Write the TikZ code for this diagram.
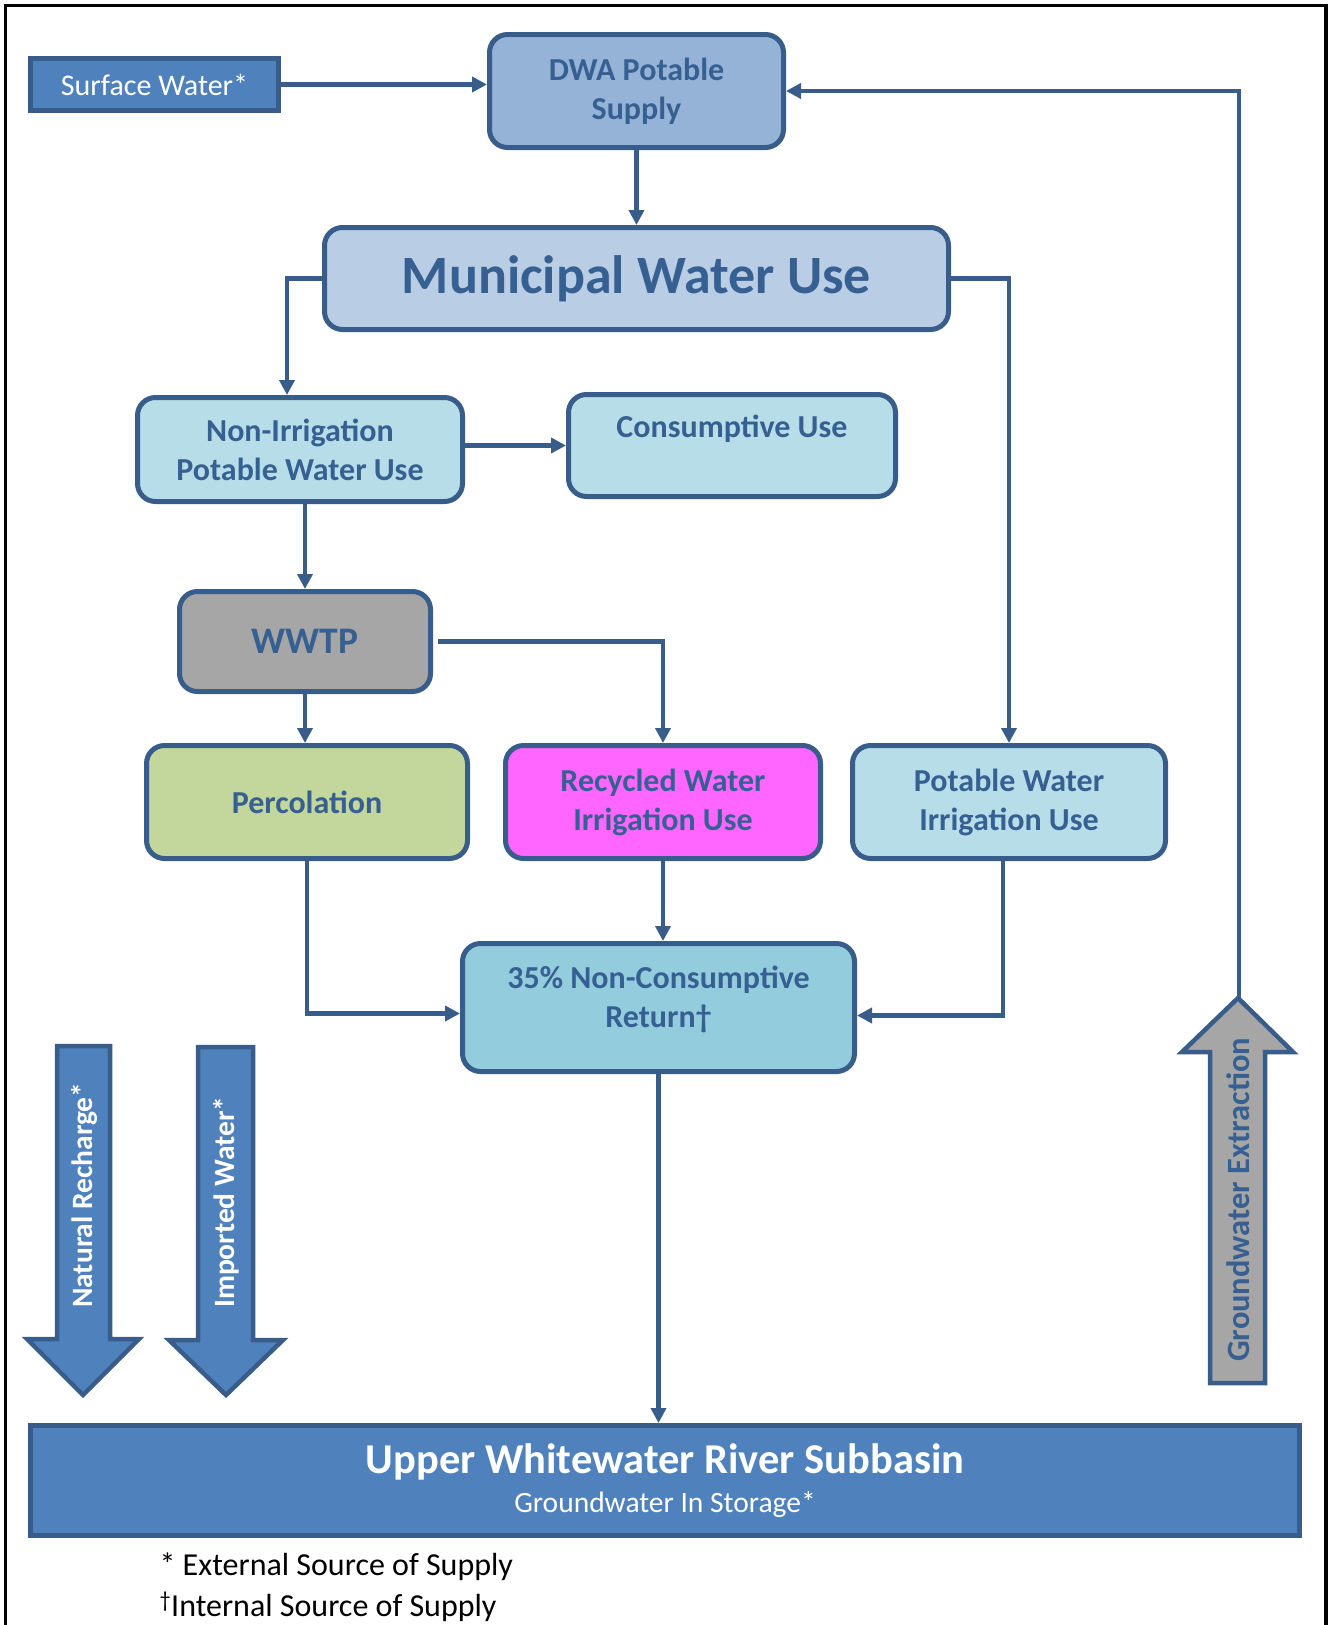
\documentclass[tikz,border=0pt]{standalone}
\usepackage{fontspec}
\setmainfont{Carlito}
\usetikzlibrary{arrows.meta,positioning,calc}
\definecolor{EdgeBlue}{HTML}{385D8A}
\definecolor{TextBlue}{HTML}{376092}
\definecolor{DwaBlue}{HTML}{95B3D7}
\definecolor{MuniBlue}{HTML}{B9CDE5}
\definecolor{UseAqua}{HTML}{B7DEE8}
\definecolor{ReturnAqua}{HTML}{93CDDD}
\definecolor{WwtpGray}{HTML}{A6A6A6}
\definecolor{PercGreen}{HTML}{C3D69B}
\definecolor{RecyPink}{HTML}{FF66FF}
\definecolor{BasinBlue}{HTML}{4F81BD}
\tikzset{
  rbox/.style={draw=EdgeBlue,rounded corners=18pt,line width=5pt,
               text=TextBlue,font=\fontsize{32}{39}\selectfont\bfseries,
               align=center,inner sep=2pt},
  sbox/.style={draw=EdgeBlue,fill=BasinBlue,line width=5pt,text=white,
               align=center,inner sep=2pt},
  arr/.style={-{Triangle[length=15pt,width=15pt]},EdgeBlue,line width=4.5pt},
  bigarrow/.style={draw=EdgeBlue,line width=4.5pt,fill=BasinBlue},
  arrowtxt/.style={rotate=90,anchor=west,inner sep=0pt,
                   font=\fontsize{29.5}{30}\selectfont\bfseries},
}

\begin{document}
\begin{tikzpicture}[x=1pt,y=-1pt]
  \useasboundingbox (0,0) rectangle (1330,1625);
  \draw[line width=3.5pt] (5.5,1640) -- (5.5,5.5) -- (1326,5.5) -- (1326,1640);

  % sources and uses
  \node[sbox,minimum width=248pt,minimum height=52pt,
        font=\fontsize{30}{32}\selectfont] (surf) at (154.5,84.5) {Surface Water*};
  \node[rbox,fill=DwaBlue,minimum width=294pt,minimum height=113pt] (dwa) at (636.5,91) {DWA Potable\\Supply};
  \node[rbox,fill=MuniBlue,minimum width=624pt,minimum height=102pt,
        font=\fontsize{54}{60}\selectfont\bfseries] (muni) at (636.5,278.5) {Municipal Water Use};
  \node[rbox,fill=UseAqua,minimum width=325pt,minimum height=104pt] (nonirr) at (300,449.5) {Non-Irrigation\\Potable Water Use};
  \node[rbox,fill=UseAqua,minimum width=327pt,minimum height=102pt] (cons) at (732,445.5) {Consumptive Use\\\mbox{}};
  \node[rbox,fill=WwtpGray,minimum width=251pt,minimum height=100pt,
        font=\fontsize{37.5}{40}\selectfont\bfseries] (wwtp) at (305,641.5) {WWTP};
  \node[rbox,fill=PercGreen,minimum width=321pt,minimum height=113pt] (perc) at (307,802) {Percolation};
  \node[rbox,fill=RecyPink,minimum width=315pt,minimum height=113pt] (recy) at (663,802) {Recycled Water\\Irrigation Use};
  \node[rbox,fill=UseAqua,minimum width=313pt,minimum height=113pt] (potirr) at (1009,802) {Potable Water\\Irrigation Use};
  \node[rbox,fill=ReturnAqua,minimum width=392pt,minimum height=128pt] (ret) at (658.5,1007.5) {35\% Non-Consumptive\\Return†\\[-18pt]\mbox{}};
  \node[sbox,minimum width=1269pt,minimum height=110pt,
        font=\fontsize{29.5}{39}\selectfont] (upper) at (665,1480.5)
        {{\fontsize{42.5}{44}\selectfont\bfseries Upper Whitewater River Subbasin}\\Groundwater In Storage*};

  % big arrows
  \draw[bigarrow] (57,1046) -- (110,1046) -- (110,1339) -- (139,1339) -- (83,1395)
                  -- (27,1339) -- (57,1339) -- cycle;
  \draw[bigarrow] (198,1047) -- (253,1047) -- (253,1340) -- (283,1340) -- (226,1395)
                  -- (169,1340) -- (198,1340) -- cycle;
  \draw[bigarrow,fill=WwtpGray] (1210,1383) -- (1265,1383) -- (1265,1052) -- (1293,1052)
                  -- (1238,998) -- (1182,1052) -- (1210,1052) -- cycle;
  \node[arrowtxt,text=white] (natlbl) at (84,1308) {Natural Recharge*};
  \node[arrowtxt,text=white] (implbl) at (226,1308) {Imported Water*};
  \node[arrowtxt,text=TextBlue,font=\fontsize{32.5}{34}\selectfont\bfseries] (gwlbl) at (1238,1362) {Groundwater Extraction};
  \coordinate (gwtip) at (1239,998);

  % flows
  \draw[arr] (surf.east) -- (surf.east -| dwa.west);
  \draw[arr] (gwtip) |- (dwa.east);
  \draw[arr] (dwa.south) -- (dwa.south |- muni.north);
  \draw[arr] (muni.west) -| ([xshift=-13pt]nonirr.north);
  \draw[arr] (muni.east) -| (potirr.north);
  \draw[arr] (nonirr.east |- cons.west) -- (cons.west);
  \draw[arr] (wwtp.north |- nonirr.south) -- (wwtp.north);
  \draw[arr] (wwtp.south) -- (wwtp.south |- perc.north);
  \draw[arr] ([xshift=5pt]wwtp.east) -| (recy.north);
  \draw[arr] (recy.south) -- (recy.south |- ret.north);
  \draw[arr] (perc.south) |- ([yshift=-6pt]ret.west);
  \draw[arr] ([xshift=-6pt]potirr.south) |- ([yshift=-8pt]ret.east);
  \draw[arr] (ret.south) -- (ret.south |- upper.north);

  % notes
  \node[anchor=west,font=\fontsize{32}{34}\selectfont] (note1) at (156,1567) {* External Source of Supply};
  \node[anchor=west,font=\fontsize{32}{34}\selectfont] (note2) at (156,1607) {\textsuperscript{†}Internal Source of Supply};
\end{tikzpicture}
\end{document}
